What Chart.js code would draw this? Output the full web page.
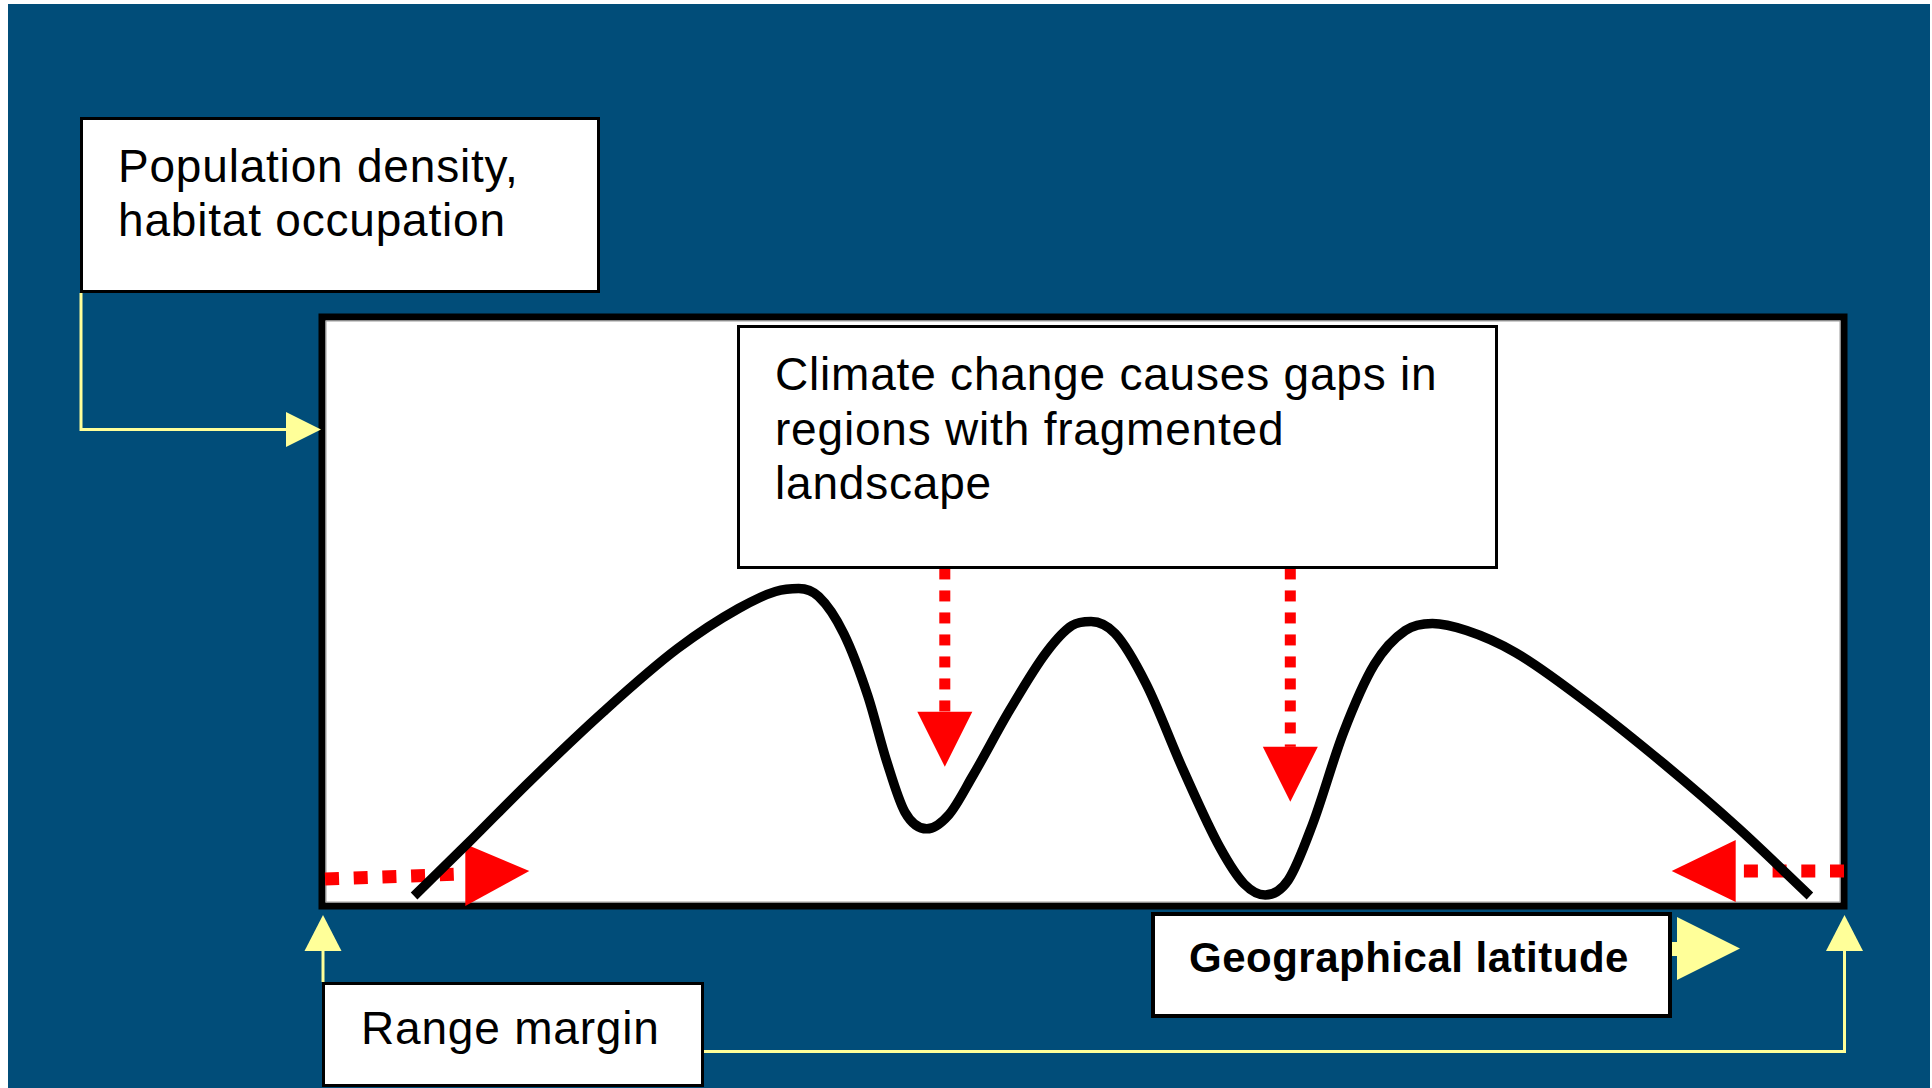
<!DOCTYPE html>
<html>
<head>
<meta charset="utf-8">
<script src="https://cdn.jsdelivr.net/npm/chart.js@4/dist/chart.umd.min.js"></script>
<style>
  html, body { margin:0; padding:0; background:#fff; width:1932px; height:1088px; overflow:hidden; }
  #bg { position:absolute; left:8px; top:4px; width:1922px; height:1084px; background:#014d79; }
  #c { position:absolute; left:0; top:0; }
  .box { position:absolute; background:#fff; border:3px solid #000; box-sizing:border-box; z-index:2; }
  .t { position:absolute; z-index:3; white-space:nowrap; color:#000; font-family:"Liberation Sans", Arial, sans-serif;
       font-size:46px; line-height:46px; letter-spacing:0.8px; }
  .b { font-weight:bold; font-size:42px; line-height:42px; letter-spacing:0.5px; }
</style>
</head>
<body>
<div id="bg"></div>
<canvas id="c" width="1932" height="1088"></canvas>

<div class="box" style="left:80px;top:117px;width:520px;height:176px;"></div>
<div class="t" style="left:118px;top:143px;">Population density,</div>
<div class="t" style="left:118px;top:197px;">habitat occupation</div>

<div class="box" style="left:737px;top:325px;width:761px;height:244px;"></div>
<div class="t" style="left:775px;top:351px;">Climate change causes gaps in</div>
<div class="t" style="left:775px;top:406px;">regions with fragmented</div>
<div class="t" style="left:775px;top:460px;">landscape</div>

<div class="box" style="left:322px;top:982px;width:382px;height:105px;"></div>
<div class="t" style="left:361px;top:1005px;">Range margin</div>

<div class="box" style="left:1151px;top:912px;width:521px;height:106px;border-width:4px;"></div>
<div class="t b" style="left:1189px;top:937px;">Geographical latitude</div>

<script>
// Curve: geographical latitude (0-100) vs. population density (0-100)
const latitude = [6.05, 9.54, 13.62, 18.49, 23.36, 27.37, 29.80, 31.32, 32.63, 34.28,
                  35.86, 37.11, 38.29, 39.74, 41.18, 42.76, 45.20, 47.63, 49.28, 50.53,
                  52.11, 54.14, 56.58, 59.01, 60.59, 61.97, 63.49, 65.07, 67.11, 69.14,
                  71.18, 72.96, 75.20, 78.42, 83.29, 88.16, 93.03, 97.76];
const density  = [1.70, 10.54, 21.09, 32.99, 43.71, 50.51, 53.40, 53.91, 52.55, 46.26,
                  35.71, 24.49, 15.99, 13.10, 15.48, 22.11, 33.33, 43.20, 47.62, 48.30,
                  46.26, 37.76, 23.13, 9.86, 3.74, 1.87, 4.42, 13.78, 29.42, 40.99,
                  46.77, 47.96, 46.77, 43.03, 34.18, 24.15, 13.27, 1.70];

// Gap arrows (vertical, pointing down into the troughs)
const gapArrowX    = [40.92, 63.62];
const gapArrowFrom = [57.31, 57.31];
const gapArrowTip  = [23.64, 17.69];

// Range-margin arrows (horizontal, from the frame edges inwards)
const marginArrowFromX = [0.2, 100];
const marginArrowTipX  = [13.62, 88.68];
const marginArrowFromY = [4.59, 5.95];
const marginArrowTipY  = [5.95, 5.95];

const points = latitude.map((x, i) => ({ x: x, y: density[i] }));

function tri(ctx, pts, color) {
  ctx.beginPath();
  ctx.moveTo(pts[0][0], pts[0][1]);
  ctx.lineTo(pts[1][0], pts[1][1]);
  ctx.lineTo(pts[2][0], pts[2][1]);
  ctx.closePath();
  ctx.fillStyle = color;
  ctx.fill();
}

const framePlugin = {
  id: 'frame',
  beforeDatasetsDraw(chart) {
    const { ctx, chartArea: a, scales: { x, y } } = chart;
    ctx.save();
    ctx.fillStyle = '#fff';
    ctx.fillRect(a.left, a.top, a.right - a.left, a.bottom - a.top);
    ctx.strokeStyle = '#000';
    ctx.lineWidth = 7;
    ctx.strokeRect(a.left, a.top, a.right - a.left, a.bottom - a.top);
    ctx.strokeStyle = '#9a9a9a';
    ctx.lineWidth = 1;
    ctx.strokeRect(a.left + 4, a.top + 4, a.right - a.left - 8, a.bottom - a.top - 8);

    const red = '#ff0000';
    for (let i = 0; i < gapArrowX.length; i++) {
      const px = x.getPixelForValue(gapArrowX[i]);
      const y0 = y.getPixelForValue(gapArrowFrom[i]);
      const yt = y.getPixelForValue(gapArrowTip[i]);
      const head = 55, half = 27.5;
      ctx.setLineDash([11, 11]);
      ctx.lineCap = 'butt';
      ctx.strokeStyle = red;
      ctx.lineWidth = 11;
      ctx.beginPath();
      ctx.moveTo(px, y0);
      ctx.lineTo(px, yt - head);
      ctx.stroke();
      ctx.setLineDash([]);
      tri(ctx, [[px - half, yt - head], [px + half, yt - head], [px, yt]], red);
    }
    for (let i = 0; i < marginArrowFromX.length; i++) {
      const x0 = x.getPixelForValue(marginArrowFromX[i]);
      const xt = x.getPixelForValue(marginArrowTipX[i]);
      const y0 = y.getPixelForValue(marginArrowFromY[i]);
      const yt = y.getPixelForValue(marginArrowTipY[i]);
      const dir = xt > x0 ? 1 : -1;
      const head = 64, half = 31;
      const xb = xt - dir * head;
      ctx.setLineDash([14, 14.7]);
      ctx.strokeStyle = red;
      ctx.lineWidth = 13;
      ctx.beginPath();
      ctx.moveTo(x0, y0);
      ctx.lineTo(xb, yt + (dir > 0 ? 3 : 0));
      ctx.stroke();
      ctx.setLineDash([]);
      tri(ctx, [[xb, yt - half + (dir > 0 ? 4 : 0)], [xb, yt + half + (dir > 0 ? 4 : 0)], [xt, yt]], red);
    }
    ctx.restore();
  },
  afterDraw(chart) {
    const ctx = chart.ctx;
    const yel = '#ffff99';
    ctx.save();
    ctx.strokeStyle = yel;
    ctx.lineWidth = 3;
    ctx.lineJoin = 'miter';
    ctx.setLineDash([]);
    ctx.beginPath();
    ctx.moveTo(81, 293); ctx.lineTo(81, 429.5); ctx.lineTo(288, 429.5);
    ctx.stroke();
    tri(ctx, [[286, 412], [286, 447], [321, 429.5]], yel);
    ctx.beginPath();
    ctx.moveTo(323, 982); ctx.lineTo(323, 950);
    ctx.stroke();
    tri(ctx, [[304.5, 951], [341.5, 951], [323, 915]], yel);
    ctx.beginPath();
    ctx.moveTo(704, 1051.5); ctx.lineTo(1844.5, 1051.5); ctx.lineTo(1844.5, 950);
    ctx.stroke();
    tri(ctx, [[1826, 951], [1863, 951], [1844.5, 915]], yel);
    ctx.fillStyle = yel;
    ctx.fillRect(1672, 942, 6, 14);
    tri(ctx, [[1677, 917], [1677, 980], [1740, 948.5]], yel);
    ctx.restore();
  }
};

new Chart(document.getElementById('c'), {
  type: 'line',
  data: {
    datasets: [{
      label: 'Population density',
      data: points,
      borderColor: '#000',
      borderWidth: 9.5,
      cubicInterpolationMode: 'monotone',
      pointRadius: 0,
      fill: false,
      clip: false
    }]
  },
  options: {
    responsive: false,
    maintainAspectRatio: false,
    animation: false,
    devicePixelRatio: 1,
    layout: { padding: { left: 322, top: 317, right: 88, bottom: 182 } },
    scales: {
      x: { type: 'linear', min: 0, max: 100, display: false },
      y: { type: 'linear', min: 0, max: 100, display: false }
    },
    plugins: { legend: { display: false }, tooltip: { enabled: false } },
    events: []
  },
  plugins: [framePlugin]
});
</script>
</body>
</html>
